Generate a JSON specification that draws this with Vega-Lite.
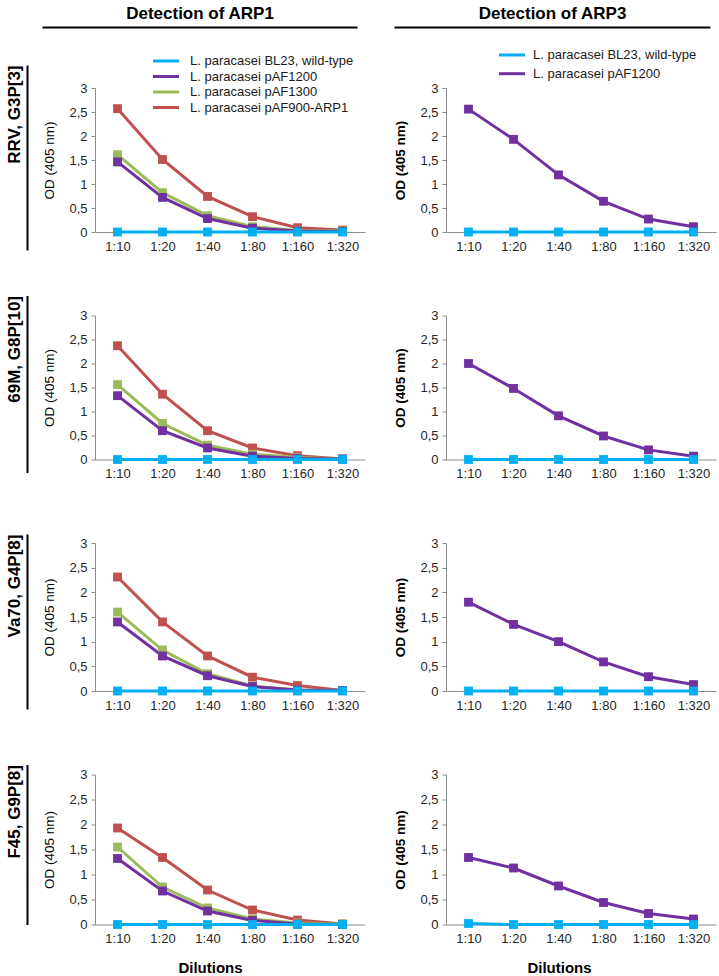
{
  "$schema": "https://vega.github.io/schema/vega-lite/v6.json",
  "background": "white",
  "padding": {"top": 4, "left": 5, "right": 5, "bottom": 5},
  "config": {
    "font": "Liberation Sans",
    "view": {"stroke": null},
    "axis": {"grid": false, "labelFont": "Liberation Sans", "labelFontSize": 13, "labelColor": "#262626", "domainColor": "#8c8c8c", "tickColor": "#8c8c8c", "titleColor": "#000000", "titleFont": "Liberation Sans"},
    "axisX": {"ticks": false, "labelPadding": 8, "labelAngle": 0},
    "axisY": {"tickSize": 4, "labelPadding": 4, "titleFontSize": 13.5, "titlePadding": 12},
    "legend": {"symbolType": "M-2,0H2", "symbolStrokeWidth": 3, "symbolSize": 169, "labelFontSize": 13, "labelColor": "#1a1a1a", "labelFont": "Liberation Sans", "labelLimit": 300, "labelOffset": 16, "padding": 0}
  },
  "datasets": {
    "frame": [{"v": 0}, {"v": 1}],
    "arp1": [
      {"v": "RRV, G3P[3]", "d": "1:10", "s": "pAF900-ARP1", "od": 2.57},
      {"v": "RRV, G3P[3]", "d": "1:20", "s": "pAF900-ARP1", "od": 1.51},
      {"v": "RRV, G3P[3]", "d": "1:40", "s": "pAF900-ARP1", "od": 0.74},
      {"v": "RRV, G3P[3]", "d": "1:80", "s": "pAF900-ARP1", "od": 0.32},
      {"v": "RRV, G3P[3]", "d": "1:160", "s": "pAF900-ARP1", "od": 0.09},
      {"v": "RRV, G3P[3]", "d": "1:320", "s": "pAF900-ARP1", "od": 0.04},
      {"v": "RRV, G3P[3]", "d": "1:10", "s": "pAF1300", "od": 1.61},
      {"v": "RRV, G3P[3]", "d": "1:20", "s": "pAF1300", "od": 0.82},
      {"v": "RRV, G3P[3]", "d": "1:40", "s": "pAF1300", "od": 0.34},
      {"v": "RRV, G3P[3]", "d": "1:80", "s": "pAF1300", "od": 0.11},
      {"v": "RRV, G3P[3]", "d": "1:160", "s": "pAF1300", "od": 0.03},
      {"v": "RRV, G3P[3]", "d": "1:320", "s": "pAF1300", "od": 0.02},
      {"v": "RRV, G3P[3]", "d": "1:10", "s": "pAF1200", "od": 1.46},
      {"v": "RRV, G3P[3]", "d": "1:20", "s": "pAF1200", "od": 0.72},
      {"v": "RRV, G3P[3]", "d": "1:40", "s": "pAF1200", "od": 0.28},
      {"v": "RRV, G3P[3]", "d": "1:80", "s": "pAF1200", "od": 0.08},
      {"v": "RRV, G3P[3]", "d": "1:160", "s": "pAF1200", "od": 0.02},
      {"v": "RRV, G3P[3]", "d": "1:320", "s": "pAF1200", "od": 0.01},
      {"v": "RRV, G3P[3]", "d": "1:10", "s": "BL23, wild-type", "od": 0},
      {"v": "RRV, G3P[3]", "d": "1:20", "s": "BL23, wild-type", "od": 0},
      {"v": "RRV, G3P[3]", "d": "1:40", "s": "BL23, wild-type", "od": 0},
      {"v": "RRV, G3P[3]", "d": "1:80", "s": "BL23, wild-type", "od": 0},
      {"v": "RRV, G3P[3]", "d": "1:160", "s": "BL23, wild-type", "od": 0},
      {"v": "RRV, G3P[3]", "d": "1:320", "s": "BL23, wild-type", "od": 0},
      {"v": "69M, G8P[10]", "d": "1:10", "s": "pAF900-ARP1", "od": 2.37},
      {"v": "69M, G8P[10]", "d": "1:20", "s": "pAF900-ARP1", "od": 1.36},
      {"v": "69M, G8P[10]", "d": "1:40", "s": "pAF900-ARP1", "od": 0.60},
      {"v": "69M, G8P[10]", "d": "1:80", "s": "pAF900-ARP1", "od": 0.24},
      {"v": "69M, G8P[10]", "d": "1:160", "s": "pAF900-ARP1", "od": 0.08},
      {"v": "69M, G8P[10]", "d": "1:320", "s": "pAF900-ARP1", "od": 0.01},
      {"v": "69M, G8P[10]", "d": "1:10", "s": "pAF1300", "od": 1.56},
      {"v": "69M, G8P[10]", "d": "1:20", "s": "pAF1300", "od": 0.75},
      {"v": "69M, G8P[10]", "d": "1:40", "s": "pAF1300", "od": 0.30},
      {"v": "69M, G8P[10]", "d": "1:80", "s": "pAF1300", "od": 0.11},
      {"v": "69M, G8P[10]", "d": "1:160", "s": "pAF1300", "od": 0.04},
      {"v": "69M, G8P[10]", "d": "1:320", "s": "pAF1300", "od": 0.01},
      {"v": "69M, G8P[10]", "d": "1:10", "s": "pAF1200", "od": 1.33},
      {"v": "69M, G8P[10]", "d": "1:20", "s": "pAF1200", "od": 0.60},
      {"v": "69M, G8P[10]", "d": "1:40", "s": "pAF1200", "od": 0.24},
      {"v": "69M, G8P[10]", "d": "1:80", "s": "pAF1200", "od": 0.07},
      {"v": "69M, G8P[10]", "d": "1:160", "s": "pAF1200", "od": 0.02},
      {"v": "69M, G8P[10]", "d": "1:320", "s": "pAF1200", "od": 0.01},
      {"v": "69M, G8P[10]", "d": "1:10", "s": "BL23, wild-type", "od": 0},
      {"v": "69M, G8P[10]", "d": "1:20", "s": "BL23, wild-type", "od": 0},
      {"v": "69M, G8P[10]", "d": "1:40", "s": "BL23, wild-type", "od": 0},
      {"v": "69M, G8P[10]", "d": "1:80", "s": "BL23, wild-type", "od": 0},
      {"v": "69M, G8P[10]", "d": "1:160", "s": "BL23, wild-type", "od": 0},
      {"v": "69M, G8P[10]", "d": "1:320", "s": "BL23, wild-type", "od": 0},
      {"v": "Va70, G4P[8]", "d": "1:10", "s": "pAF900-ARP1", "od": 2.31},
      {"v": "Va70, G4P[8]", "d": "1:20", "s": "pAF900-ARP1", "od": 1.40},
      {"v": "Va70, G4P[8]", "d": "1:40", "s": "pAF900-ARP1", "od": 0.71},
      {"v": "Va70, G4P[8]", "d": "1:80", "s": "pAF900-ARP1", "od": 0.28},
      {"v": "Va70, G4P[8]", "d": "1:160", "s": "pAF900-ARP1", "od": 0.11},
      {"v": "Va70, G4P[8]", "d": "1:320", "s": "pAF900-ARP1", "od": 0.01},
      {"v": "Va70, G4P[8]", "d": "1:10", "s": "pAF1300", "od": 1.60},
      {"v": "Va70, G4P[8]", "d": "1:20", "s": "pAF1300", "od": 0.83},
      {"v": "Va70, G4P[8]", "d": "1:40", "s": "pAF1300", "od": 0.35},
      {"v": "Va70, G4P[8]", "d": "1:80", "s": "pAF1300", "od": 0.10},
      {"v": "Va70, G4P[8]", "d": "1:160", "s": "pAF1300", "od": 0.02},
      {"v": "Va70, G4P[8]", "d": "1:320", "s": "pAF1300", "od": 0.01},
      {"v": "Va70, G4P[8]", "d": "1:10", "s": "pAF1200", "od": 1.40},
      {"v": "Va70, G4P[8]", "d": "1:20", "s": "pAF1200", "od": 0.71},
      {"v": "Va70, G4P[8]", "d": "1:40", "s": "pAF1200", "od": 0.31},
      {"v": "Va70, G4P[8]", "d": "1:80", "s": "pAF1200", "od": 0.09},
      {"v": "Va70, G4P[8]", "d": "1:160", "s": "pAF1200", "od": 0.02},
      {"v": "Va70, G4P[8]", "d": "1:320", "s": "pAF1200", "od": 0.01},
      {"v": "Va70, G4P[8]", "d": "1:10", "s": "BL23, wild-type", "od": 0},
      {"v": "Va70, G4P[8]", "d": "1:20", "s": "BL23, wild-type", "od": 0},
      {"v": "Va70, G4P[8]", "d": "1:40", "s": "BL23, wild-type", "od": 0},
      {"v": "Va70, G4P[8]", "d": "1:80", "s": "BL23, wild-type", "od": 0},
      {"v": "Va70, G4P[8]", "d": "1:160", "s": "BL23, wild-type", "od": 0},
      {"v": "Va70, G4P[8]", "d": "1:320", "s": "BL23, wild-type", "od": 0},
      {"v": "F45, G9P[8]", "d": "1:10", "s": "pAF900-ARP1", "od": 1.93},
      {"v": "F45, G9P[8]", "d": "1:20", "s": "pAF900-ARP1", "od": 1.34},
      {"v": "F45, G9P[8]", "d": "1:40", "s": "pAF900-ARP1", "od": 0.69},
      {"v": "F45, G9P[8]", "d": "1:80", "s": "pAF900-ARP1", "od": 0.29},
      {"v": "F45, G9P[8]", "d": "1:160", "s": "pAF900-ARP1", "od": 0.09},
      {"v": "F45, G9P[8]", "d": "1:320", "s": "pAF900-ARP1", "od": 0.01},
      {"v": "F45, G9P[8]", "d": "1:10", "s": "pAF1300", "od": 1.55},
      {"v": "F45, G9P[8]", "d": "1:20", "s": "pAF1300", "od": 0.75},
      {"v": "F45, G9P[8]", "d": "1:40", "s": "pAF1300", "od": 0.33},
      {"v": "F45, G9P[8]", "d": "1:80", "s": "pAF1300", "od": 0.11},
      {"v": "F45, G9P[8]", "d": "1:160", "s": "pAF1300", "od": 0.03},
      {"v": "F45, G9P[8]", "d": "1:320", "s": "pAF1300", "od": 0.01},
      {"v": "F45, G9P[8]", "d": "1:10", "s": "pAF1200", "od": 1.32},
      {"v": "F45, G9P[8]", "d": "1:20", "s": "pAF1200", "od": 0.67},
      {"v": "F45, G9P[8]", "d": "1:40", "s": "pAF1200", "od": 0.27},
      {"v": "F45, G9P[8]", "d": "1:80", "s": "pAF1200", "od": 0.08},
      {"v": "F45, G9P[8]", "d": "1:160", "s": "pAF1200", "od": 0.01},
      {"v": "F45, G9P[8]", "d": "1:320", "s": "pAF1200", "od": 0.0},
      {"v": "F45, G9P[8]", "d": "1:10", "s": "BL23, wild-type", "od": 0},
      {"v": "F45, G9P[8]", "d": "1:20", "s": "BL23, wild-type", "od": 0},
      {"v": "F45, G9P[8]", "d": "1:40", "s": "BL23, wild-type", "od": 0},
      {"v": "F45, G9P[8]", "d": "1:80", "s": "BL23, wild-type", "od": 0},
      {"v": "F45, G9P[8]", "d": "1:160", "s": "BL23, wild-type", "od": 0},
      {"v": "F45, G9P[8]", "d": "1:320", "s": "BL23, wild-type", "od": 0}
    ],
    "arp3": [
      {"v": "RRV, G3P[3]", "d": "1:10", "s": "pAF1200", "od": 2.56},
      {"v": "RRV, G3P[3]", "d": "1:20", "s": "pAF1200", "od": 1.93},
      {"v": "RRV, G3P[3]", "d": "1:40", "s": "pAF1200", "od": 1.19},
      {"v": "RRV, G3P[3]", "d": "1:80", "s": "pAF1200", "od": 0.64},
      {"v": "RRV, G3P[3]", "d": "1:160", "s": "pAF1200", "od": 0.27},
      {"v": "RRV, G3P[3]", "d": "1:320", "s": "pAF1200", "od": 0.11},
      {"v": "RRV, G3P[3]", "d": "1:10", "s": "BL23, wild-type", "od": 0},
      {"v": "RRV, G3P[3]", "d": "1:20", "s": "BL23, wild-type", "od": 0},
      {"v": "RRV, G3P[3]", "d": "1:40", "s": "BL23, wild-type", "od": 0},
      {"v": "RRV, G3P[3]", "d": "1:80", "s": "BL23, wild-type", "od": 0},
      {"v": "RRV, G3P[3]", "d": "1:160", "s": "BL23, wild-type", "od": 0},
      {"v": "RRV, G3P[3]", "d": "1:320", "s": "BL23, wild-type", "od": 0},
      {"v": "69M, G8P[10]", "d": "1:10", "s": "pAF1200", "od": 2.00},
      {"v": "69M, G8P[10]", "d": "1:20", "s": "pAF1200", "od": 1.48},
      {"v": "69M, G8P[10]", "d": "1:40", "s": "pAF1200", "od": 0.91},
      {"v": "69M, G8P[10]", "d": "1:80", "s": "pAF1200", "od": 0.49},
      {"v": "69M, G8P[10]", "d": "1:160", "s": "pAF1200", "od": 0.20},
      {"v": "69M, G8P[10]", "d": "1:320", "s": "pAF1200", "od": 0.07},
      {"v": "69M, G8P[10]", "d": "1:10", "s": "BL23, wild-type", "od": 0},
      {"v": "69M, G8P[10]", "d": "1:20", "s": "BL23, wild-type", "od": 0},
      {"v": "69M, G8P[10]", "d": "1:40", "s": "BL23, wild-type", "od": 0},
      {"v": "69M, G8P[10]", "d": "1:80", "s": "BL23, wild-type", "od": 0},
      {"v": "69M, G8P[10]", "d": "1:160", "s": "BL23, wild-type", "od": 0},
      {"v": "69M, G8P[10]", "d": "1:320", "s": "BL23, wild-type", "od": 0},
      {"v": "Va70, G4P[8]", "d": "1:10", "s": "pAF1200", "od": 1.80},
      {"v": "Va70, G4P[8]", "d": "1:20", "s": "pAF1200", "od": 1.35},
      {"v": "Va70, G4P[8]", "d": "1:40", "s": "pAF1200", "od": 1.00},
      {"v": "Va70, G4P[8]", "d": "1:80", "s": "pAF1200", "od": 0.59},
      {"v": "Va70, G4P[8]", "d": "1:160", "s": "pAF1200", "od": 0.29},
      {"v": "Va70, G4P[8]", "d": "1:320", "s": "pAF1200", "od": 0.13},
      {"v": "Va70, G4P[8]", "d": "1:10", "s": "BL23, wild-type", "od": 0},
      {"v": "Va70, G4P[8]", "d": "1:20", "s": "BL23, wild-type", "od": 0},
      {"v": "Va70, G4P[8]", "d": "1:40", "s": "BL23, wild-type", "od": 0},
      {"v": "Va70, G4P[8]", "d": "1:80", "s": "BL23, wild-type", "od": 0},
      {"v": "Va70, G4P[8]", "d": "1:160", "s": "BL23, wild-type", "od": 0},
      {"v": "Va70, G4P[8]", "d": "1:320", "s": "BL23, wild-type", "od": 0},
      {"v": "F45, G9P[8]", "d": "1:10", "s": "pAF1200", "od": 1.34},
      {"v": "F45, G9P[8]", "d": "1:20", "s": "pAF1200", "od": 1.13},
      {"v": "F45, G9P[8]", "d": "1:40", "s": "pAF1200", "od": 0.77},
      {"v": "F45, G9P[8]", "d": "1:80", "s": "pAF1200", "od": 0.44},
      {"v": "F45, G9P[8]", "d": "1:160", "s": "pAF1200", "od": 0.22},
      {"v": "F45, G9P[8]", "d": "1:320", "s": "pAF1200", "od": 0.11},
      {"v": "F45, G9P[8]", "d": "1:10", "s": "BL23, wild-type", "od": 0.02},
      {"v": "F45, G9P[8]", "d": "1:20", "s": "BL23, wild-type", "od": 0},
      {"v": "F45, G9P[8]", "d": "1:40", "s": "BL23, wild-type", "od": 0},
      {"v": "F45, G9P[8]", "d": "1:80", "s": "BL23, wild-type", "od": 0},
      {"v": "F45, G9P[8]", "d": "1:160", "s": "BL23, wild-type", "od": 0},
      {"v": "F45, G9P[8]", "d": "1:320", "s": "BL23, wild-type", "od": 0}
    ]
  },
  "bounds": "flush",
  "align": "each",
  "columns": 2,
  "spacing": {"row": 83.5, "column": 81},
  "resolve": {"scale": {"color": "independent"}, "legend": {"color": "independent"}},
  "concat": [
    {
      "width": 270, "height": 144,
      "resolve": {"scale": {"x": "independent", "y": "independent"}, "axis": {"x": "independent", "y": "independent"}},
      "layer": [
        {
          "data": {"name": "arp1"},
          "transform": [{"filter": {"field": "v", "equal": "RRV, G3P[3]"}}],
          "encoding": {
            "x": {"field": "d", "type": "ordinal", "sort": ["1:10", "1:20", "1:40", "1:80", "1:160", "1:320"], "scale": {"type": "point", "padding": 0.5}, "axis": {"title": null}},
            "y": {"field": "od", "type": "quantitative", "scale": {"domain": [0, 3], "nice": false}, "axis": {"orient": "left", "values": [0, 0.5, 1, 1.5, 2, 2.5, 3], "labelExpr": "replace(format(datum.value, '~g'), '.', ',')", "title": "OD (405 nm)", "titleFontWeight": "normal"}},
            "color": {"field": "s", "type": "nominal", "scale": {"domain": ["BL23, wild-type", "pAF1200", "pAF1300", "pAF900-ARP1"], "range": ["#00B0F0", "#7030A0", "#9BBB59", "#C0504D"]}, "legend": {"orient": "none", "legendX": 63, "legendY": -35, "title": null, "rowPadding": 0.5, "labelExpr": "'L. paracasei ' + datum.label"}}
          },
          "layer": [
            {"mark": {"type": "line", "strokeWidth": 3}},
            {"mark": {"type": "point", "shape": "square", "filled": true, "size": 78, "opacity": 1}}
          ]
        },
        {
          "data": {"name": "frame"},
          "mark": {"type": "point", "opacity": 0},
          "encoding": {"x": {"field": "v", "type": "quantitative", "scale": {"domain": [0, 1], "range": [-53, 262]}, "axis": {"orient": "top", "offset": 61, "title": "Detection of ARP1", "labels": false, "ticks": false, "domainColor": "#000000", "domainWidth": 2, "titleFontSize": 17, "titleFontWeight": "bold", "titlePadding": 5}}}
        },
        {
          "data": {"name": "frame"},
          "mark": {"type": "point", "opacity": 0},
          "encoding": {"y": {"field": "v", "type": "quantitative", "scale": {"domain": [0, 1], "range": [162, -23]}, "axis": {"orient": "left", "offset": 68, "title": "RRV, G3P[3]", "labels": false, "ticks": false, "domainColor": "#000000", "domainWidth": 2, "titleFontSize": 17, "titleFontWeight": "bold", "titleAnchor": "end", "titlePadding": 4}}}
        }
      ]
    },
    {
      "width": 270, "height": 144,
      "resolve": {"scale": {"x": "independent", "y": "independent"}, "axis": {"x": "independent", "y": "independent"}},
      "layer": [
        {
          "data": {"name": "arp3"},
          "transform": [{"filter": {"field": "v", "equal": "RRV, G3P[3]"}}],
          "encoding": {
            "x": {"field": "d", "type": "ordinal", "sort": ["1:10", "1:20", "1:40", "1:80", "1:160", "1:320"], "scale": {"type": "point", "padding": 0.5}, "axis": {"title": null}},
            "y": {"field": "od", "type": "quantitative", "scale": {"domain": [0, 3], "nice": false}, "axis": {"orient": "left", "values": [0, 0.5, 1, 1.5, 2, 2.5, 3], "labelExpr": "replace(format(datum.value, '~g'), '.', ',')", "title": "OD (405 nm)", "titleFontWeight": "bold"}},
            "color": {"field": "s", "type": "nominal", "scale": {"domain": ["BL23, wild-type", "pAF1200"], "range": ["#00B0F0", "#7030A0"]}, "legend": {"orient": "none", "legendX": 58, "legendY": -41, "title": null, "rowPadding": 3.7, "labelOffset": 13, "labelExpr": "'L. paracasei ' + datum.label"}}
          },
          "layer": [
            {"mark": {"type": "line", "strokeWidth": 3}},
            {"mark": {"type": "point", "shape": "square", "filled": true, "size": 78, "opacity": 1}}
          ]
        },
        {
          "data": {"name": "frame"},
          "mark": {"type": "point", "opacity": 0},
          "encoding": {"x": {"field": "v", "type": "quantitative", "scale": {"domain": [0, 1], "range": [-52, 264]}, "axis": {"orient": "top", "offset": 61, "title": "Detection of ARP3", "labels": false, "ticks": false, "domainColor": "#000000", "domainWidth": 2, "titleFontSize": 17, "titleFontWeight": "bold", "titlePadding": 5}}}
        }
      ]
    },
    {
      "width": 270, "height": 144,
      "resolve": {"scale": {"x": "independent", "y": "independent"}, "axis": {"x": "independent", "y": "independent"}},
      "layer": [
        {
          "data": {"name": "arp1"},
          "transform": [{"filter": {"field": "v", "equal": "69M, G8P[10]"}}],
          "encoding": {
            "x": {"field": "d", "type": "ordinal", "sort": ["1:10", "1:20", "1:40", "1:80", "1:160", "1:320"], "scale": {"type": "point", "padding": 0.5}, "axis": {"title": null}},
            "y": {"field": "od", "type": "quantitative", "scale": {"domain": [0, 3], "nice": false}, "axis": {"orient": "left", "values": [0, 0.5, 1, 1.5, 2, 2.5, 3], "labelExpr": "replace(format(datum.value, '~g'), '.', ',')", "title": "OD (405 nm)", "titleFontWeight": "normal"}},
            "color": {"field": "s", "type": "nominal", "scale": {"domain": ["BL23, wild-type", "pAF1200", "pAF1300", "pAF900-ARP1"], "range": ["#00B0F0", "#7030A0", "#9BBB59", "#C0504D"]}, "legend": null}
          },
          "layer": [
            {"mark": {"type": "line", "strokeWidth": 3}},
            {"mark": {"type": "point", "shape": "square", "filled": true, "size": 78, "opacity": 1}}
          ]
        },
        {
          "data": {"name": "frame"},
          "mark": {"type": "point", "opacity": 0},
          "encoding": {"y": {"field": "v", "type": "quantitative", "scale": {"domain": [0, 1], "range": [157, -20]}, "axis": {"orient": "left", "offset": 68, "title": "69M, G8P[10]", "labels": false, "ticks": false, "domainColor": "#000000", "domainWidth": 2, "titleFontSize": 17, "titleFontWeight": "bold", "titleAnchor": "end", "titlePadding": 4}}}
        }
      ]
    },
    {
      "width": 270, "height": 144,
      "data": {"name": "arp3"},
      "transform": [{"filter": {"field": "v", "equal": "69M, G8P[10]"}}],
      "encoding": {
        "x": {"field": "d", "type": "ordinal", "sort": ["1:10", "1:20", "1:40", "1:80", "1:160", "1:320"], "scale": {"type": "point", "padding": 0.5}, "axis": {"title": null}},
        "y": {"field": "od", "type": "quantitative", "scale": {"domain": [0, 3], "nice": false}, "axis": {"values": [0, 0.5, 1, 1.5, 2, 2.5, 3], "labelExpr": "replace(format(datum.value, '~g'), '.', ',')", "title": "OD (405 nm)", "titleFontWeight": "bold"}},
        "color": {"field": "s", "type": "nominal", "scale": {"domain": ["BL23, wild-type", "pAF1200"], "range": ["#00B0F0", "#7030A0"]}, "legend": null}
      },
      "layer": [
        {"mark": {"type": "line", "strokeWidth": 3}},
        {"mark": {"type": "point", "shape": "square", "filled": true, "size": 78, "opacity": 1}}
      ]
    },
    {
      "width": 270, "height": 148,
      "resolve": {"scale": {"x": "independent", "y": "independent"}, "axis": {"x": "independent", "y": "independent"}},
      "layer": [
        {
          "data": {"name": "arp1"},
          "transform": [{"filter": {"field": "v", "equal": "Va70, G4P[8]"}}],
          "encoding": {
            "x": {"field": "d", "type": "ordinal", "sort": ["1:10", "1:20", "1:40", "1:80", "1:160", "1:320"], "scale": {"type": "point", "padding": 0.5}, "axis": {"title": null}},
            "y": {"field": "od", "type": "quantitative", "scale": {"domain": [0, 3], "nice": false}, "axis": {"orient": "left", "values": [0, 0.5, 1, 1.5, 2, 2.5, 3], "labelExpr": "replace(format(datum.value, '~g'), '.', ',')", "title": "OD (405 nm)", "titleFontWeight": "normal"}},
            "color": {"field": "s", "type": "nominal", "scale": {"domain": ["BL23, wild-type", "pAF1200", "pAF1300", "pAF900-ARP1"], "range": ["#00B0F0", "#7030A0", "#9BBB59", "#C0504D"]}, "legend": null}
          },
          "layer": [
            {"mark": {"type": "line", "strokeWidth": 3}},
            {"mark": {"type": "point", "shape": "square", "filled": true, "size": 78, "opacity": 1}}
          ]
        },
        {
          "data": {"name": "frame"},
          "mark": {"type": "point", "opacity": 0},
          "encoding": {"y": {"field": "v", "type": "quantitative", "scale": {"domain": [0, 1], "range": [166, -9]}, "axis": {"orient": "left", "offset": 68, "title": "Va70, G4P[8]", "labels": false, "ticks": false, "domainColor": "#000000", "domainWidth": 2, "titleFontSize": 17, "titleFontWeight": "bold", "titleAnchor": "end", "titlePadding": 4}}}
        }
      ]
    },
    {
      "width": 270, "height": 148,
      "data": {"name": "arp3"},
      "transform": [{"filter": {"field": "v", "equal": "Va70, G4P[8]"}}],
      "encoding": {
        "x": {"field": "d", "type": "ordinal", "sort": ["1:10", "1:20", "1:40", "1:80", "1:160", "1:320"], "scale": {"type": "point", "padding": 0.5}, "axis": {"title": null}},
        "y": {"field": "od", "type": "quantitative", "scale": {"domain": [0, 3], "nice": false}, "axis": {"values": [0, 0.5, 1, 1.5, 2, 2.5, 3], "labelExpr": "replace(format(datum.value, '~g'), '.', ',')", "title": "OD (405 nm)", "titleFontWeight": "bold"}},
        "color": {"field": "s", "type": "nominal", "scale": {"domain": ["BL23, wild-type", "pAF1200"], "range": ["#00B0F0", "#7030A0"]}, "legend": null}
      },
      "layer": [
        {"mark": {"type": "line", "strokeWidth": 3}},
        {"mark": {"type": "point", "shape": "square", "filled": true, "size": 78, "opacity": 1}}
      ]
    },
    {
      "width": 270, "height": 150,
      "resolve": {"scale": {"x": "independent", "y": "independent"}, "axis": {"x": "independent", "y": "independent"}},
      "layer": [
        {
          "data": {"name": "arp1"},
          "transform": [{"filter": {"field": "v", "equal": "F45, G9P[8]"}}],
          "encoding": {
            "x": {"field": "d", "type": "ordinal", "sort": ["1:10", "1:20", "1:40", "1:80", "1:160", "1:320"], "scale": {"type": "point", "padding": 0.5}, "axis": {"title": "Dilutions", "titleFontSize": 15, "titleFontWeight": "bold", "titlePadding": 15, "titleX": 115}},
            "y": {"field": "od", "type": "quantitative", "scale": {"domain": [0, 3], "nice": false}, "axis": {"orient": "left", "values": [0, 0.5, 1, 1.5, 2, 2.5, 3], "labelExpr": "replace(format(datum.value, '~g'), '.', ',')", "title": "OD (405 nm)", "titleFontWeight": "normal"}},
            "color": {"field": "s", "type": "nominal", "scale": {"domain": ["BL23, wild-type", "pAF1200", "pAF1300", "pAF900-ARP1"], "range": ["#00B0F0", "#7030A0", "#9BBB59", "#C0504D"]}, "legend": null}
          },
          "layer": [
            {"mark": {"type": "line", "strokeWidth": 3}},
            {"mark": {"type": "point", "shape": "square", "filled": true, "size": 78, "opacity": 1}}
          ]
        },
        {
          "data": {"name": "frame"},
          "mark": {"type": "point", "opacity": 0},
          "encoding": {"y": {"field": "v", "type": "quantitative", "scale": {"domain": [0, 1], "range": [150, -10]}, "axis": {"orient": "left", "offset": 68, "title": "F45, G9P[8]", "labels": false, "ticks": false, "domainColor": "#000000", "domainWidth": 2, "titleFontSize": 17, "titleFontWeight": "bold", "titleAnchor": "end", "titlePadding": 4}}}
        }
      ]
    },
    {
      "width": 270, "height": 150,
      "data": {"name": "arp3"},
      "transform": [{"filter": {"field": "v", "equal": "F45, G9P[8]"}}],
      "encoding": {
        "x": {"field": "d", "type": "ordinal", "sort": ["1:10", "1:20", "1:40", "1:80", "1:160", "1:320"], "scale": {"type": "point", "padding": 0.5}, "axis": {"title": "Dilutions", "titleFontSize": 15, "titleFontWeight": "bold", "titlePadding": 15, "titleX": 113}},
        "y": {"field": "od", "type": "quantitative", "scale": {"domain": [0, 3], "nice": false}, "axis": {"values": [0, 0.5, 1, 1.5, 2, 2.5, 3], "labelExpr": "replace(format(datum.value, '~g'), '.', ',')", "title": "OD (405 nm)", "titleFontWeight": "bold"}},
        "color": {"field": "s", "type": "nominal", "scale": {"domain": ["BL23, wild-type", "pAF1200"], "range": ["#00B0F0", "#7030A0"]}, "legend": null}
      },
      "layer": [
        {"mark": {"type": "line", "strokeWidth": 3}},
        {"mark": {"type": "point", "shape": "square", "filled": true, "size": 78, "opacity": 1}}
      ]
    }
  ]
}
